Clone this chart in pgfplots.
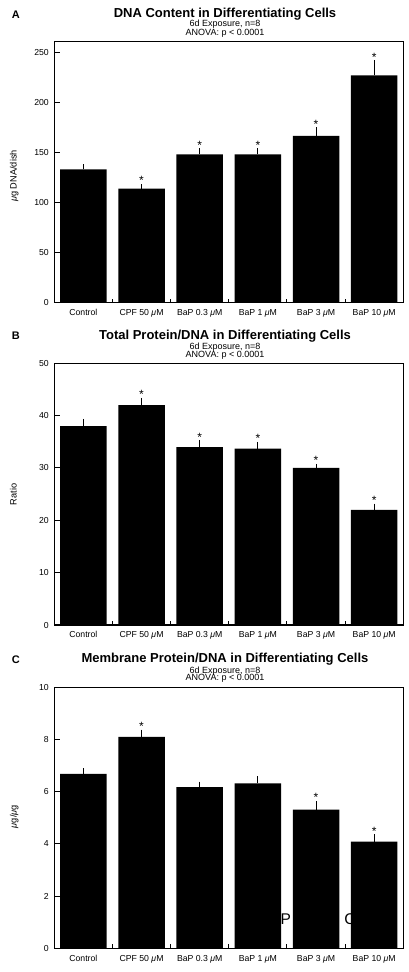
\documentclass[border=0pt]{standalone}
\usepackage{fontspec}
\setmainfont{Liberation Sans}
\usepackage{pgfplots}
\pgfplotsset{compat=1.18}
\newcommand{\mum}{\textit{μ}M}
\pgfplotsset{
  panel/.style={
    scale only axis, width=349pt, height=261pt,
    xmin=-0.5, xmax=5.5, ymin=0,
    axis line style={line width=1.2pt},
    tick align=inside, tick pos=left,
    xtick={0,...,5},
    xticklabels={Control, CPF 50 \mum, BaP 0.3 \mum, BaP 1 \mum, BaP 3 \mum, BaP 10 \mum},
    major x tick style={draw=none},
    minor xtick={0.5,1.5,2.5,3.5,4.5},
    minor tick length=4pt, major tick length=5.5pt,
    minor x tick style={line width=1pt, black},
    major y tick style={line width=1pt, black},
    ticklabel style={font=\fontsize{8.7}{9}\selectfont},
    xticklabel style={yshift=-3pt, text height=6.4pt, text depth=1.5pt},
    yticklabel style={xshift=-2pt},
    /pgf/number format/assume math mode=true,
    clip=false,
  },
  bars/.style={ybar=0pt, bar width=0.8, fill=black, draw=none,
    error bars/y dir=plus, error bars/y explicit,
    error bars/error mark=-,
    error bars/error bar style={line width=1.1pt, black},
    error bars/error mark options={line width=1.1pt, mark size=2pt, black}},
  stars/.style={draw=none, mark=none, nodes near coords={*},
    every node near coord/.append style={anchor=south, inner sep=0pt, yshift=1pt, black, font=\fontsize{12}{12}\selectfont}},
}
\begin{document}
\begin{tikzpicture}
\path[use as bounding box] (0,0) rectangle (409pt,-972pt);
% ---------- Panel A
\node[anchor=base west, inner sep=0pt, font=\fontsize{11}{12}\bfseries] at (11.7pt,-18.3pt) {A};
\node[anchor=base, font=\fontsize{13}{14}\bfseries] at (225pt,-17.7pt) {DNA Content in Differentiating Cells};
\node[anchor=base, font=\fontsize{9}{9}\selectfont] at (225pt,-26.7pt) {6d Exposure, n=8};
\node[anchor=base, font=\fontsize{9}{9}\selectfont] at (225pt,-35pt) {ANOVA: p < 0.0001};
\node[anchor=base, rotate=90, font=\fontsize{9.2}{10}\selectfont] at (16.5pt,-176pt) {\textit{μ}g DNA/dish};
\begin{axis}[panel, at={(54.3pt,-302.7pt)}, anchor=south west, ymax=260.6, ytick={0,50,...,250}]
\addplot[bars] coordinates {(0,133) +- (0,3) (1,114) +- (0,2.5) (2,148) +- (0,4) (3,148) +- (0,4) (4,166.5) +- (0,6.5) (5,227) +- (0,13)};
\addplot[stars] coordinates {(1,116.5) (2,152) (3,152) (4,173) (5,240)};
\end{axis}
% ---------- Panel B
\node[anchor=base west, inner sep=0pt, font=\fontsize{11}{12}\bfseries] at (11.7pt,-339.3pt) {B};
\node[anchor=base, font=\fontsize{13}{14}\bfseries] at (225pt,-339.3pt) {Total Protein/DNA in Differentiating Cells};
\node[anchor=base, font=\fontsize{9}{9}\selectfont] at (225pt,-349.3pt) {6d Exposure, n=8};
\node[anchor=base, font=\fontsize{9}{9}\selectfont] at (225pt,-357pt) {ANOVA: p < 0.0001};
\node[anchor=base, rotate=90, font=\fontsize{9.2}{10}\selectfont] at (16.5pt,-494.3pt) {Ratio};
\begin{axis}[panel, at={(54.3pt,-625pt)}, anchor=south west, ymax=50, ytick={0,10,...,50}, height=261.7pt]
\addplot[bars] coordinates {(0,38) +- (0,1) (1,42) +- (0,1) (2,34) +- (0,0.9) (3,33.7) +- (0,0.9) (4,30) +- (0,0.4) (5,22) +- (0,0.8)};
\addplot[stars] coordinates {(1,43) (2,34.9) (3,34.6) (4,30.4) (5,22.8)};
\end{axis}
% ---------- Panel C
\node[anchor=base west, inner sep=0pt, font=\fontsize{11}{12}\bfseries] at (11.7pt,-663.3pt) {C};
\node[anchor=base, font=\fontsize{13}{14}\bfseries] at (225pt,-662.7pt) {Membrane Protein/DNA in Differentiating Cells};
\node[anchor=base, font=\fontsize{9}{9}\selectfont] at (225pt,-673.3pt) {6d Exposure, n=8};
\node[anchor=base, font=\fontsize{9}{9}\selectfont] at (225pt,-680.7pt) {ANOVA: p < 0.0001};
\node[anchor=base, rotate=90, font=\fontsize{9.2}{10}\selectfont] at (16.5pt,-816.7pt) {\textit{μ}g/\textit{μ}g};
\node[anchor=base west, inner sep=0pt, font=\fontsize{15.5}{16}\selectfont] at (280.3pt,-924pt) {P};
\node[anchor=base west, inner sep=0pt, font=\fontsize{15.5}{16}\selectfont] at (344.2pt,-924pt) {C};
\begin{axis}[panel, at={(54.3pt,-948.3pt)}, anchor=south west, ymax=10, ytick={0,2,...,10}]
\addplot[bars] coordinates {(0,6.68) +- (0,0.15) (1,8.1) +- (0,0.2) (2,6.18) +- (0,0.13) (3,6.32) +- (0,0.2) (4,5.31) +- (0,0.25) (5,4.09) +- (0,0.2)};
\addplot[stars] coordinates {(1,8.3) (4,5.56) (5,4.29)};
\end{axis}
\end{tikzpicture}
\end{document}
